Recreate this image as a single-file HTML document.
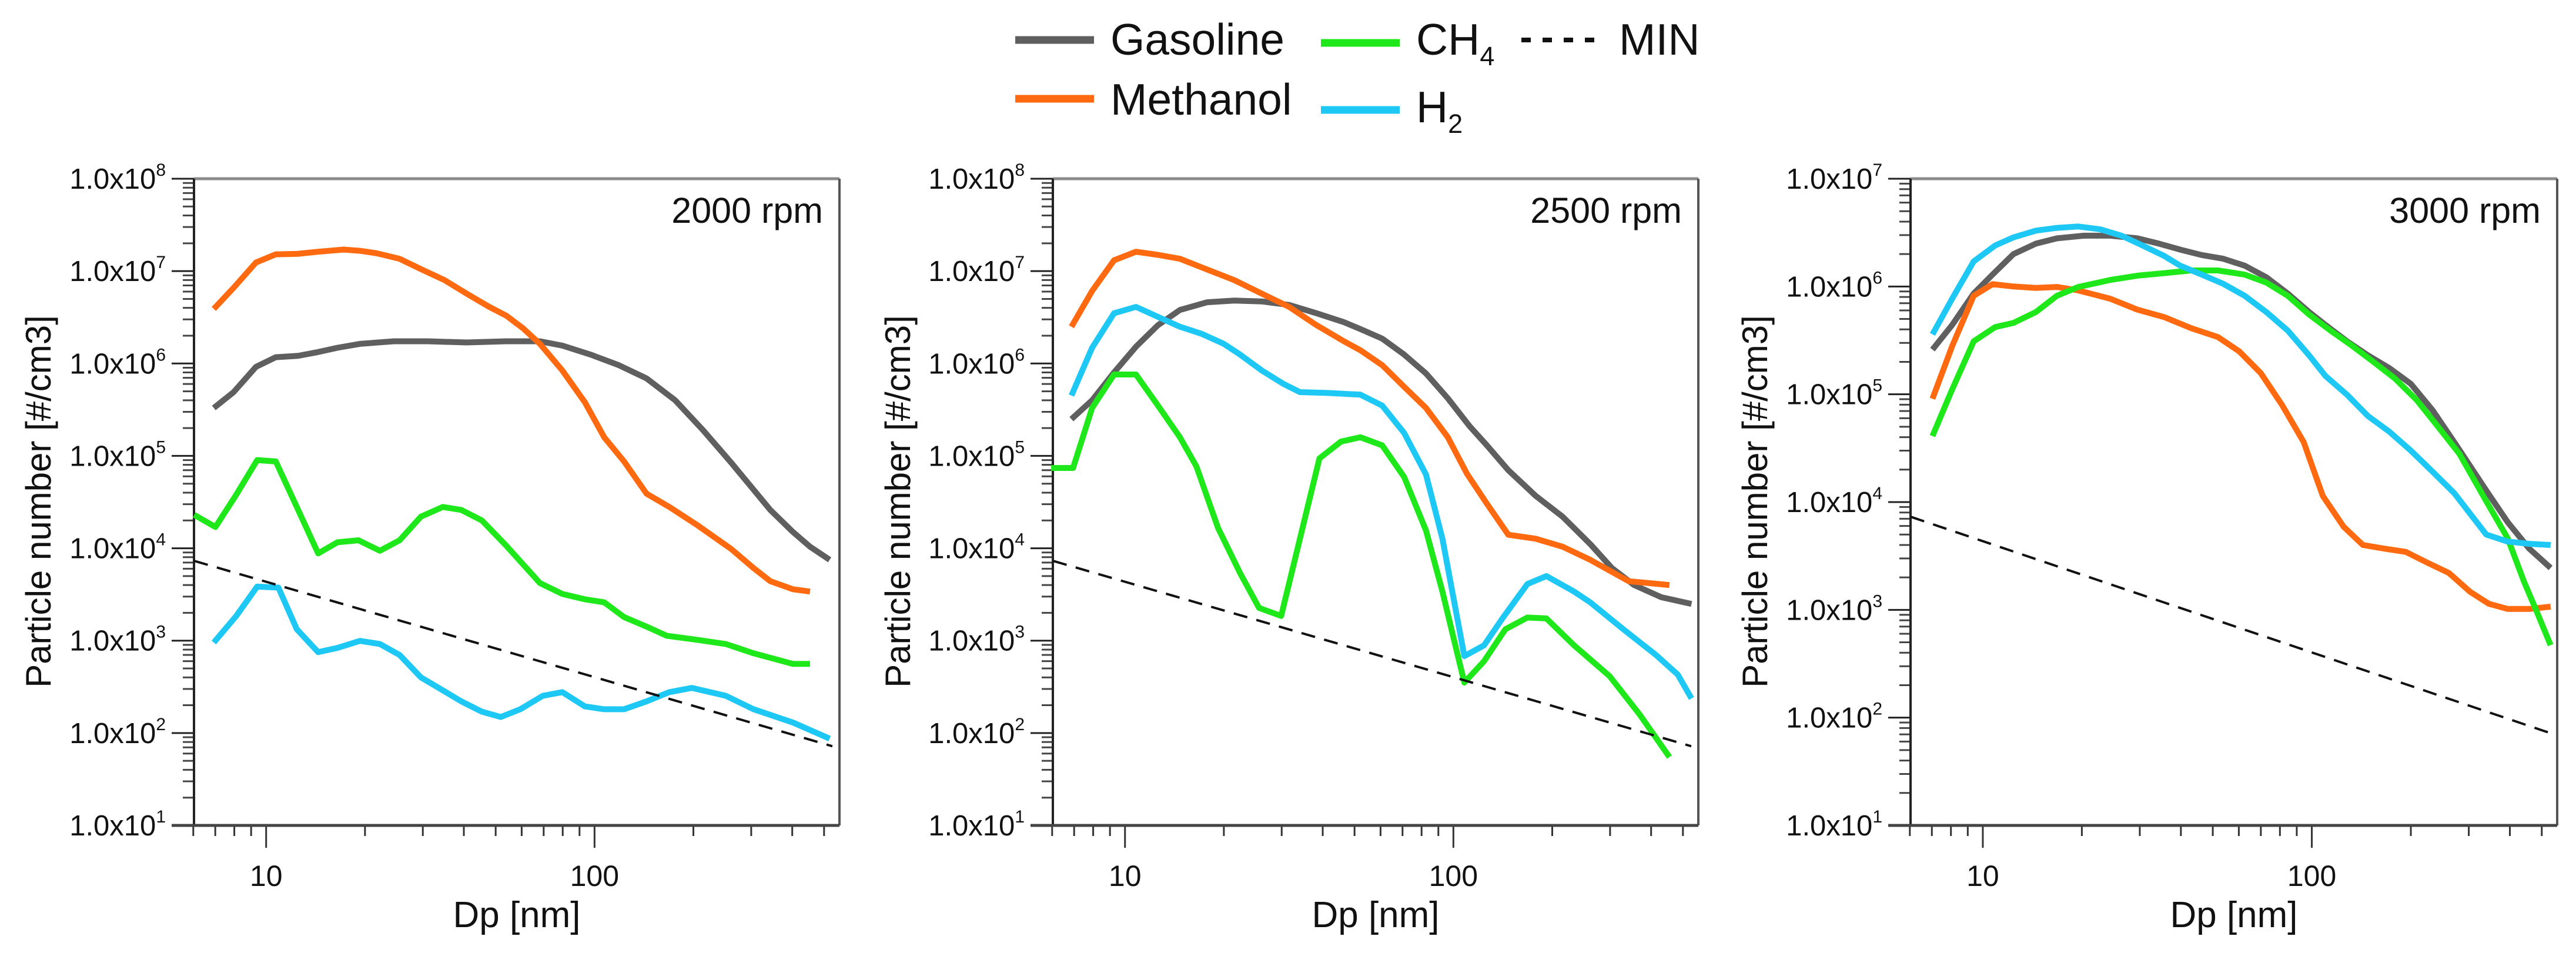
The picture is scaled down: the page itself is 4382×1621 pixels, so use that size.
<!DOCTYPE html>
<html><head><meta charset="utf-8"><style>
html,body{margin:0;padding:0;background:#fff}
svg{display:block}
text{font-family:"Liberation Sans",Arial,sans-serif;fill:#111}
</style></head><body>
<svg id="chart" xmlns="http://www.w3.org/2000/svg" width="4382" height="1621" viewBox="0 0 4382 1621">
<g id="legend">
 <g><line x1="1727" y1="68" x2="1861" y2="68" stroke="#5f5f5f" stroke-width="13"/><text x="1889" y="93" font-size="75">Gasoline</text></g>
 <g><line x1="2247" y1="73" x2="2381" y2="73" stroke="#1ee81a" stroke-width="13"/><text x="2409" y="93" font-size="75">CH<tspan font-size="45" dy="18">4</tspan></text></g>
 <g><line x1="2588" y1="68" x2="2728" y2="68" stroke="#111" stroke-width="8" stroke-dasharray="16,20"/><text x="2754" y="93" font-size="75">MIN</text></g>
 <g><line x1="1727" y1="168" x2="1861" y2="168" stroke="#ff6a10" stroke-width="13"/><text x="1889" y="195" font-size="75">Methanol</text></g>
 <g><line x1="2247" y1="187" x2="2381" y2="187" stroke="#1ec8f5" stroke-width="13"/><text x="2409" y="208" font-size="75">H<tspan font-size="45" dy="18">2</tspan></text></g>
</g>
</svg>
<script>
// ---- data ----
const panelTitles = ["2000 rpm","2500 rpm","3000 rpm"];
const panelYMaxExp = [8, 8, 7];
const seriesNames = ["Gasoline","Methanol","CH4","H2"];
const seriesColors = ["#5f5f5f","#ff6a10","#1ee81a","#1ec8f5"];
const xTickLabels = ["10","100"];
const minX = [6.04, 530];
const minY = [7.3e3, 72];

// panel 1 (2000 rpm)
const p1GasX = [6.93,7.96,9.31,10.7,12.5,14.4,16.5,19.3,24.5,31.0,40.8,53.8,68.2,79.8,97.2,118.5,144,176,214,261,343,402,453,520];
const p1GasY = [3.3e5,4.9e5,9.2e5,1.17e6,1.21e6,1.33e6,1.48e6,1.63e6,1.74e6,1.74e6,1.69e6,1.74e6,1.74e6,1.56e6,1.25e6,9.6e5,6.9e5,4.0e5,1.9e5,8.4e4,2.6e4,1.5e4,1.04e4,7.5e3];
const p1MetX = [6.93,7.96,9.31,10.7,12.5,14.4,17.2,19.3,21.7,25.5,29.8,34.9,40.8,47.8,53.8,60.6,68.2,79.8,93.5,107,123,144,169,206,261,305,343,402,453];
const p1MetY = [3.9e6,6.6e6,1.24e7,1.52e7,1.54e7,1.62e7,1.71e7,1.66e7,1.56e7,1.36e7,1.04e7,8.0e6,5.7e6,4.1e6,3.3e6,2.4e6,1.63e6,8.4e5,3.8e5,1.59e5,8.7e4,3.9e4,2.8e4,1.77e4,9.8e3,6.1e3,4.4e3,3.6e3,3.4e3];
const p1CH4X = [6.04,7.01,8.11,9.39,10.7,12.4,14.4,16.5,19.1,22.2,25.5,29.6,34.5,39.3,45.4,53.8,68.2,79.8,93.5,107,123,144,166,206,251,305,402,453];
const p1CH4Y = [2.3e4,1.7e4,3.8e4,9.0e4,8.7e4,2.8e4,8.8e3,1.16e4,1.22e4,9.4e3,1.22e4,2.2e4,2.8e4,2.6e4,2.0e4,1.07e4,4.2e3,3.2e3,2.8e3,2.6e3,1.8e3,1.42e3,1.13e3,1.02e3,920,730,560,560];
const p1H2X = [6.93,8.11,9.39,10.9,12.4,14.4,16.5,19.3,22.2,25.5,29.6,34.5,39.3,45.4,51.8,59.4,69.6,79.8,93.5,107,123,144,169,198,251,305,402,520];
const p1H2Y = [955,1850,3850,3750,1330,750,835,995,920,700,400,290,220,170,149,181,253,277,194,181,181,220,277,308,253,181,130,87];

// panel 2 (2500 rpm)
const p2GasX = [6.87,7.94,9.26,10.8,12.6,14.7,17.8,21.5,26.1,31.6,38.3,46.4,52.1,60.7,70.8,82.5,96.2,112,126,147,178,215,261,304,355,430,531];
const p2GasY = [2.5e5,4.0e5,8.0e5,1.52e6,2.6e6,3.8e6,4.6e6,4.8e6,4.7e6,4.3e6,3.5e6,2.8e6,2.36e6,1.86e6,1.25e6,7.8e5,4.2e5,2.1e5,1.32e5,7.0e4,3.7e4,2.2e4,1.11e4,6.1e3,4.0e3,2.95e3,2.5e3];
const p2MetX = [6.87,7.94,9.26,10.8,12.6,14.7,17.8,21.5,26.1,31.6,38.3,46.4,52.1,60.7,70.8,82.5,96.2,110,126,147,178,215,261,342,455];
const p2MetY = [2.5e6,6.1e6,1.31e7,1.62e7,1.50e7,1.36e7,1.04e7,8.0e6,5.7e6,4.1e6,2.6e6,1.74e6,1.39e6,9.6e5,5.6e5,3.3e5,1.59e5,6.4e4,3.1e4,1.40e4,1.27e4,1.04e4,7.5e3,4.4e3,4.0e3];
const p2CH4X = [5.96,6.95,7.94,9.26,10.8,12.6,14.7,16.5,19.2,22.4,25.6,29.9,34.1,39.1,45.5,52.1,60.7,70.8,82.5,92.6,100,108,124,144,168,192,233,299,369,455];
const p2CH4Y = [7.4e4,7.4e4,3.3e5,7.6e5,7.6e5,3.5e5,1.59e5,7.7e4,1.66e4,5.4e3,2.26e3,1.85e3,1.27e4,9.4e4,1.43e5,1.59e5,1.30e5,5.9e4,1.56e4,3.4e3,1.09e3,352,600,1.33e3,1.78e3,1.74e3,890,413,159,55];
const p2H2X = [6.87,7.94,9.26,10.8,12.6,14.7,17.1,20.0,22.4,26.1,30.4,34.1,41.4,52.1,60.7,70.8,82.5,92.6,100,108,124,141,168,192,233,261,329,414,482,531];
const p2H2Y = [4.5e5,1.48e6,3.5e6,4.1e6,3.2e6,2.5e6,2.1e6,1.63e6,1.25e6,8.4e5,6.0e5,4.9e5,4.8e5,4.6e5,3.5e5,1.77e5,6.3e4,1.27e4,2.95e3,680,890,1.74e3,4.1e3,5.0e3,3.4e3,2.6e3,1.33e3,700,430,237];

// panel 3 (3000 rpm)
const p3GasX = [7.03,8.07,9.38,10.7,12.4,14.5,16.8,20.3,24.4,29.5,34.3,39.8,46.3,53.8,62.5,72.7,84.5,98.1,110,128,148,172,200,233,271,339,394,458,532];
const p3GasY = [2.6e5,4.4e5,8.6e5,1.29e6,2.0e6,2.5e6,2.8e6,2.96e6,2.96e6,2.8e6,2.5e6,2.2e6,1.96e6,1.81e6,1.56e6,1.22e6,8.6e5,5.8e5,4.4e5,3.1e5,2.3e5,1.75e5,1.25e5,7.1e4,3.6e4,1.28e4,6.5e3,3.7e3,2.45e3];
const p3MetX = [7.03,8.07,9.38,10.7,12.4,14.5,16.8,19.5,24.4,29.5,35.6,43.0,51.8,60.2,70.0,81.3,94.5,108,125,143,166,193,224,261,303,345,394,458,532];
const p3MetY = [9.1e4,2.8e5,8.2e5,1.05e6,1.0e6,9.7e5,9.9e5,9.2e5,7.7e5,6.1e5,5.2e5,4.1e5,3.4e5,2.5e5,1.57e5,7.9e4,3.6e4,1.14e4,5.9e3,4.0e3,3.7e3,3.45e3,2.75e3,2.2e3,1.47e3,1.14e3,1.02e3,1.02e3,1.07e3];
const p3CH4X = [7.03,8.07,9.38,10.9,12.4,14.5,16.8,19.5,24.4,29.5,35.6,43.0,51.8,62.5,72.7,84.5,98.1,114,133,154,179,208,242,281,339,394,441,485,532];
const p3CH4Y = [4.1e4,1.11e5,3.1e5,4.2e5,4.6e5,5.8e5,8.2e5,9.9e5,1.15e6,1.26e6,1.33e6,1.41e6,1.41e6,1.29e6,1.09e6,8.2e5,5.5e5,3.9e5,2.8e5,2.0e5,1.40e5,8.9e4,5.0e4,2.8e4,1.02e4,4.6e3,1.85e3,930,470];
const p3H2X = [7.03,8.07,9.38,10.9,12.4,14.5,16.8,19.5,22.7,26.4,30.6,35.6,39.8,46.3,53.8,62.5,72.7,84.5,98.1,110,128,148,172,200,233,271,339,394,458,532];
const p3H2Y = [3.6e5,7.7e5,1.71e6,2.4e6,2.86e6,3.3e6,3.5e6,3.6e6,3.4e6,2.96e6,2.4e6,1.92e6,1.56e6,1.29e6,1.06e6,8.2e5,5.8e5,3.9e5,2.3e5,1.48e5,9.9e4,6.3e4,4.5e4,3.0e4,1.91e4,1.21e4,5.0e3,4.3e3,4.1e3,4.0e3];

const panelSeries = [
  [[p1GasX,p1GasY],[p1MetX,p1MetY],[p1CH4X,p1CH4Y],[p1H2X,p1H2Y]],
  [[p2GasX,p2GasY],[p2MetX,p2MetY],[p2CH4X,p2CH4Y],[p2H2X,p2H2Y]],
  [[p3GasX,p3GasY],[p3MetX,p3MetY],[p3CH4X,p3CH4Y],[p3H2X,p3H2Y]]
];
// drawing order: gasoline, methanol, CH4, H2 as in reference
// ---- layout ----
const NS = "http://www.w3.org/2000/svg";
const svg = document.getElementById("chart");
const panelLeft = [330, 1791, 3250];
const panelW = [1098, 1098, 1100];
const TOP = 304, BOT = 1404;
const XMIN = 6.03, XMAX = 557, YMINEXP = 1;

function mk(tag, attrs, parent){
  const e = document.createElementNS(NS, tag);
  for (const k in attrs) e.setAttribute(k, attrs[k]);
  (parent||svg).appendChild(e);
  return e;
}

for (let p = 0; p < 3; p++) {
  const L = panelLeft[p], R = L + panelW[p];
  const ymax = panelYMaxExp[p];
  const sx = v => L + (Math.log10(v) - Math.log10(XMIN)) / (Math.log10(XMAX) - Math.log10(XMIN)) * (R - L);
  const sy = v => BOT - (Math.log10(v) - YMINEXP) / (ymax - YMINEXP) * (BOT - TOP);
  const g = mk("g", {});
  
  

  // y ticks
  const yax = mk("g", {}, g);
  
  
  for (let e = YMINEXP; e <= ymax; e++) {
    const y = sy(Math.pow(10, e));
    mk("line", {x1: L - 38, x2: L, y1: y, y2: y, stroke: "#222", "stroke-width": 3}, yax);
    const t = mk("text", {x: L - 48, y: y + 17, "font-size": 49, "text-anchor": "end"}, yax);
    
    
    t.textContent = "1.0x10";
    const s = mk("tspan", {"font-size": 30, dy: -22}, t);
    s.textContent = String(e);
    if (e < ymax) for (let m = 2; m <= 9; m++) {
      const ym = sy(m * Math.pow(10, e));
      mk("line", {x1: L - 19, x2: L, y1: ym, y2: ym, stroke: "#444", "stroke-width": 3}, yax);
    }
  }
  // x ticks
  const xax = mk("g", {}, g);
  
  
  [6,7,8,9,20,30,40,50,60,70,80,90,200,300,400,500].forEach(v => {
    const x = sx(v);
    mk("line", {x1: x, x2: x, y1: BOT, y2: BOT + 18, stroke: "#333", "stroke-width": 3}, xax);
  });
  [10, 100].forEach((v, i) => {
    const x = sx(v);
    mk("line", {x1: x, x2: x, y1: BOT, y2: BOT + 38, stroke: "#333", "stroke-width": 3}, xax);
    const t = mk("text", {x: x, y: 1507, "font-size": 50, "text-anchor": "middle"}, xax);
    
    
    t.textContent = xTickLabels[i];
  });
  // frame
  mk("line", {x1: L, y1: TOP, x2: R, y2: TOP, stroke: "#8a8a8a", "stroke-width": 5}, g);
  mk("line", {x1: R, y1: TOP, x2: R, y2: BOT, stroke: "#555", "stroke-width": 4}, g);
  mk("line", {x1: L, y1: TOP, x2: L, y2: BOT, stroke: "#222", "stroke-width": 4}, g);
  mk("line", {x1: L - 38, y1: BOT, x2: R, y2: BOT, stroke: "#444", "stroke-width": 5}, g);

  // series
  for (let s = 0; s < 4; s++) {
    const [xs, ys] = panelSeries[p][s];
    const pts = xs.map((v, i) => sx(v).toFixed(1) + "," + sy(ys[i]).toFixed(1)).join(" ");
    const pl = mk("polyline", {points: pts, fill: "none", stroke: seriesColors[s], "stroke-width": 10, "stroke-linejoin": "round"}, g);
    
    
  }
  // MIN line
  const ml = mk("line", {x1: sx(minX[0]), y1: sy(minY[0]), x2: sx(minX[1]), y2: sy(minY[1]), stroke: "#111", "stroke-width": 4, "stroke-dasharray": "24,16"}, g);
  
  

  // titles
  const tt = mk("text", {x: R - 28, y: 379, "font-size": 61, "text-anchor": "end"}, g);
  
  
  tt.textContent = panelTitles[p];
  const xt = mk("text", {x: (L + R) / 2, y: 1577, "font-size": 62, "text-anchor": "middle"}, g);
  
  
  xt.textContent = "Dp [nm]";
  const yc = [65, 1527, 2985][p];
  const yt = mk("text", {x: 0, y: 0, "font-size": 60, "text-anchor": "middle", transform: "translate(" + (yc + 21) + ",853) rotate(-90)"}, g);
  
  
  yt.textContent = "Particle number [#/cm3]";
}
</script>
</body></html>
